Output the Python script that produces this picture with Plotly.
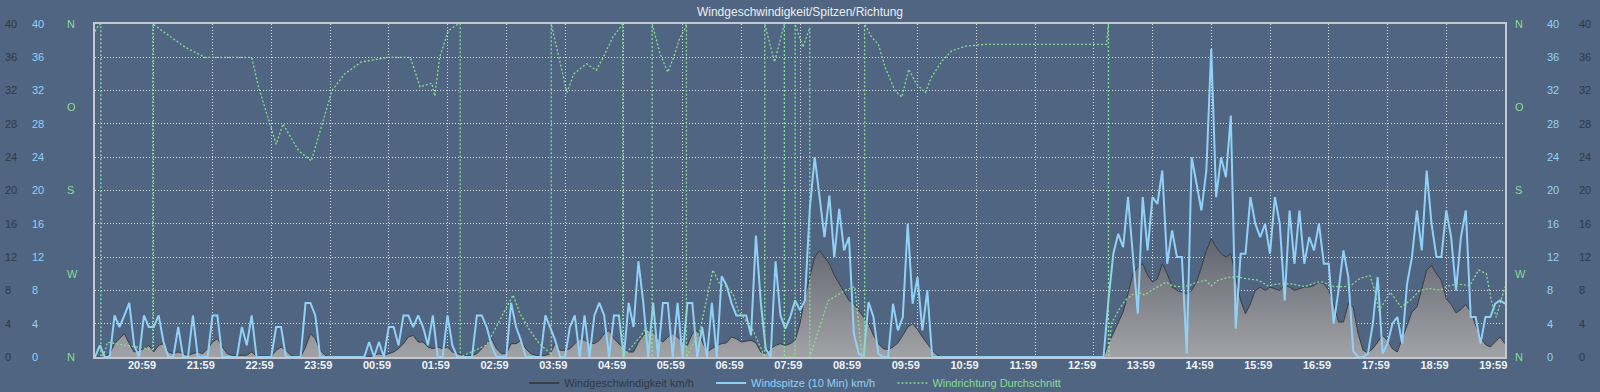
import pandas as pd
import plotly.graph_objects as go

# ---------------- data ----------------
START = "2024-05-01 20:11"
N_STEPS = 289  # 5-minute samples, 20:11 -> 20:11 next day

# Wind speed (km/h), 5-minute samples
speed = (
    [0, 0, 0, 0.4, 1.6, 2.2, 2.8, 1.6, 0.6, 0.8, 1.0, 1.4]
    + [0.6, 1.4, 1.6, 0.6, 0.4, 0.6, 0.4, 0.2, 0.4, 0.6, 0.4, 1.0]
    + [1.8, 2.2, 1.2, 0.4, 0.2, 0.2, 0.2, 0.2, 0.6, 0.1, 0.1, 0.1]
    + [0.1, 0.8, 1.2, 0.8, 0.2, 0, 0, 1.2, 2.8, 2.2, 0.8, 0.2]
    + [0, 0, 0, 0, 0, 0, 0, 0, 0, 0.2, 0.4, 0.2]
    + [0.4, 0.6, 1.0, 1.6, 2.4, 2.6, 1.8, 1.8, 1.2, 1.0, 1.2, 1.0]
    + [1.2, 0.6, 0.4, 0.2, 0.2, 0.2, 0.4, 1.0, 1.6, 2.2, 1.0, 0.4]
    + [0.4, 1.6, 1.6, 2.0, 1.0, 0.4, 0.2, 0.2, 0.2, 0.4, 1.6, 0.8]
    + [0.8, 1.0, 1.6, 2.2, 2.0, 1.7, 1.6, 2.0, 2.8, 3.2, 2.2, 1.6]
    + [1.0, 0.6, 0.6, 1.8, 2.6, 3.2, 3.0, 2.2, 1.8, 2.4, 2.8, 2.4]
    + [1.8, 1.4, 2.8, 3.2, 2.0, 0.6, 1.0, 1.4, 1.6, 1.7, 2.4, 2.2]
    + [1.8, 1.9, 2.0, 1.7, 0.6, 0.4, 1.0, 1.4, 1.6, 1.4, 1.6, 2.0]
    + [4.0, 7.2, 9.6, 12.0, 12.8, 12.0, 11.2, 9.8, 8.8, 7.8, 6.8, 6.4]
    + [5.6, 4.8, 4.0, 2.6, 1.6, 1.0, 0.9, 1.2, 1.7, 2.6, 3.6, 4.0]
    + [3.3, 2.4, 1.6, 0.8, 0.2, 0, 0, 0, 0, 0, 0, 0]
    + [0, 0, 0, 0, 0, 0, 0, 0, 0, 0, 0, 0]
    + [0, 0, 0, 0, 0, 0, 0, 0, 0, 0, 0, 0]
    + [0, 0, 0]
    + [1.6, 2.8, 4.0, 5.4, 7.6, 10.0, 10.8, 11.2, 9.8, 9.0, 9.4, 11.2]
    + [10.0, 8.4, 8.0, 7.8, 7.6, 8.0, 9.0, 10.8, 12.8, 14.2, 13.2, 12.4]
    + [12.0, 12.4, 9.6, 6.8, 5.2, 6.4, 8.0, 8.4, 8.0, 8.4, 8.2, 8.0]
    + [8.6, 8.4, 8.0, 8.2, 8.4, 8.4, 8.6, 9.0, 8.8, 8.0, 6.4, 4.2]
    + [4.2, 6.4, 6.0, 2.8, 0.8, 0.5, 1.0, 1.8, 2.6, 2.0, 1.0, 0.6]
    + [2.2, 4.0, 5.4, 6.0, 8.2, 10.4, 11.0, 10.0, 9.2, 7.0, 6.3, 5.3]
    + [5.7, 6.3, 5.4, 3.8, 2.3, 1.5, 1.2, 1.8, 2.4, 1.6]
)

# Wind gusts, 10-minute peak (km/h), 5-minute samples
gust = (
    [0, 1.4, 0, 0, 5.0, 3.6, 5.0, 6.5, 1.4, 0, 5.0, 3.6]
    + [3.6, 5.0, 1.8, 0, 0, 3.6, 0, 0, 5.0, 0, 0, 0]
    + [5.0, 5.0, 0, 0, 0, 0, 3.6, 1.4, 5.0, 0, 0, 0]
    + [0, 3.6, 3.6, 0, 0, 0, 0, 6.5, 6.5, 5.0, 0, 0]
    + [0, 0, 0, 0, 0, 0, 0, 0, 1.8, 0, 1.8, 0]
    + [3.6, 3.6, 1.4, 5.0, 5.0, 3.6, 5.0, 3.6, 1.4, 5.0, 0, 0]
    + [5.0, 1.4, 0, 0, 0, 0, 5.0, 5.0, 3.6, 1.4, 0, 0]
    + [0, 6.5, 3.6, 2.0, 0, 0, 0, 0, 5.0, 3.6, 2.0, 0]
    + [0, 3.6, 5.0, 0, 5.0, 0, 5.0, 6.5, 5.0, 0, 5.0, 5.0]
    + [0, 6.5, 3.6, 11.5, 6.5, 0, 6.5, 0, 6.5, 6.5, 0, 6.5]
    + [0, 6.5, 6.5, 0, 3.6, 0, 6.5, 0, 9.7, 8.6, 6.5, 5.0]
    + [5.0, 5.0, 2.6, 14.6, 6.5, 1.0, 0, 11.5, 5.0, 3.4, 4.8, 6.8]
    + [5.6, 6.8, 17.8, 24.0, 19.2, 14.4, 19.4, 12.0, 17.8, 12.8, 14.4, 2.8]
    + [0.4, 0, 6.6, 4.8, 0.4, 0, 0, 6.4, 3.2, 4.8, 16.0, 6.4]
    + [9.6, 3.2, 8.0, 0, 0, 0, 0, 0, 0, 0, 0, 0]
    + [0, 0, 0, 0, 0, 0, 0, 0, 0, 0, 0, 0]
    + [0, 0, 0, 0, 0, 0, 0, 0, 0, 0, 0, 0]
    + [0, 0, 0]
    + [6.8, 12.4, 14.8, 13.2, 19.2, 12.0, 5.2, 19.2, 12.8, 19.2, 18.4, 22.4]
    + [11.2, 15.2, 12.0, 12.0, 0.4, 24.0, 20.8, 17.6, 22.4, 37.0, 19.2, 24.0]
    + [21.6, 29.0, 3.4, 12.4, 12.4, 19.2, 16.0, 14.4, 16.0, 12.4, 19.2, 16.0]
    + [6.8, 17.6, 11.2, 17.6, 11.2, 14.4, 12.8, 16.0, 11.2, 11.2, 4.0, 8.0]
    + [12.8, 9.6, 0.7, 0, 0, 0.4, 4.0, 9.6, 0.4, 1.6, 4.0, 4.8]
    + [1.6, 8.8, 12.0, 17.6, 12.8, 22.4, 16.0, 12.0, 12.0, 17.6, 14.4, 8.0]
    + [14.4, 17.6, 4.8, 4.8, 1.6, 4.8, 4.8, 6.4, 6.8, 6.4]
)

# Average wind direction (degrees, 0/360 = N), read at its own time points
dir_times = [
    "20:11", "20:15", "20:17", "20:17", "20:20", "20:24", "20:40", "21:00", "21:10", "21:10",
    "21:29", "21:43", "22:03", "22:51", "22:58", "23:16", "23:23", "23:39", "23:52", "00:02",
    "00:13", "00:26", "00:43", "01:11", "01:33", "01:43", "01:55", "01:58", "02:03", "02:12",
    "02:22", "02:24", "02:24", "02:51", "03:18", "03:25", "03:35", "03:45", "03:56", "03:57",
    "03:57", "04:13", "04:20", "04:33", "04:43", "04:50", "05:00", "05:10", "05:10", "05:28",
    "05:34", "05:39", "05:40", "05:40", "05:48", "05:56", "06:02", "06:08", "06:14", "06:15",
    "06:15", "06:29", "06:42", "06:49", "06:56", "07:03", "07:08", "07:23", "07:33", "07:35",
    "07:35", "07:45", "07:54", "07:55", "07:55", "08:06", "08:06", "08:14", "08:21", "08:21",
    "08:30", "08:40", "08:57", "09:07", "09:14", "09:17", "09:17", "09:24", "09:31", "09:38",
    "09:48", "09:55", "10:02", "10:10", "10:19", "10:25", "10:36", "10:46", "11:00", "11:20",
    "11:54", "13:24", "13:26", "13:26", "13:29", "13:36", "13:43", "13:50", "13:56", "14:03",
    "14:10", "14:17", "14:25", "14:31", "14:37", "14:48", "14:54", "15:05", "15:11", "15:18",
    "15:28", "15:37", "15:45", "15:59", "16:09", "16:19", "16:33", "16:47", "16:59", "17:05",
    "17:16", "17:26", "17:33", "17:43", "17:53", "17:58", "18:02", "18:07", "18:14", "18:20",
    "18:25", "18:34", "18:44", "18:54", "19:05", "19:11", "19:22", "19:35", "19:44", "19:52",
    "19:57", "20:02", "20:08", "20:11",
]
dir_deg = [
    8, 1, 0, 360, 357, 344, 347, 350, 352, 0,
    14, 25, 36, 36, 68, 130, 108, 137, 148, 112,
    72, 54, 41, 36, 36, 68, 64, 78, 36, 7,
    0, 0, 360, 347, 293, 313, 331, 346, 356, 360,
    0, 74, 54, 43, 50, 36, 14, 0, 360, 338,
    328, 345, 360, 0, 32, 52, 36, 16, 4, 0,
    360, 331, 266, 281, 284, 293, 310, 331, 356, 360,
    0, 41, 4, 0, 360, 360, 0, 25, 4, 360,
    331, 299, 288, 284, 356, 360, 0, 14, 22, 47,
    72, 79, 49, 65, 74, 58, 40, 29, 24, 22,
    22, 22, 0, 360, 324, 310, 299, 293, 290, 293,
    288, 284, 279, 283, 284, 283, 280, 277, 283, 277,
    274, 273, 275, 277, 283, 281, 281, 284, 279, 279,
    284, 284, 283, 275, 272, 288, 310, 302, 290, 299,
    306, 299, 288, 286, 288, 284, 281, 283, 266, 270,
    299, 317, 295, 284,
]

hour_labels = ["20:59", "21:59", "22:59", "23:59", "00:59", "01:59", "02:59", "03:59",
               "04:59", "05:59", "06:59", "07:59", "08:59", "09:59", "10:59", "11:59",
               "12:59", "13:59", "14:59", "15:59", "16:59", "17:59", "18:59", "19:59"]
speed_ticks = [0, 4, 8, 12, 16, 20, 24, 28, 32, 36, 40]
dir_ticks = [0, 90, 180, 270, 360]
dir_labels = ["N", "O", "S", "W", "N"]

assert len(speed) == N_STEPS, len(speed)
assert len(gust) == N_STEPS, len(gust)
assert len(dir_times) == len(dir_deg)

# ---------------- helpers ----------------
t0 = pd.Timestamp(START)
t_end = t0 + pd.Timedelta(hours=24)
times = pd.date_range(t0, periods=N_STEPS, freq="5min")


def to_ts(hhmm):
    h, m = map(int, hhmm.split(":"))
    ts = t0.normalize() + pd.Timedelta(hours=h, minutes=m)
    if ts < t0:
        ts += pd.Timedelta(days=1)
    return ts


dir_x = []
for i, s in enumerate(dir_times):
    ts = to_ts(s)
    if i == len(dir_times) - 1 and ts <= t0:
        ts += pd.Timedelta(days=1)
    dir_x.append(ts)

label_ts = [to_ts(s) for s in hour_labels]
grid_ts = [t0 + pd.Timedelta(hours=k) for k in range(1, 24)]

# ---------------- styling ----------------
BG = "#4f6581"
GRID = "rgba(228,232,238,0.9)"
FRAME = "#c3c8d1"
C_SPEED_TXT = "#2f3947"
C_SPEED_LINE = "#3a3d44"
C_GUST = "#92d1f7"
C_DIR = "#86df93"
FONT = "Liberation Sans, Arial, Helvetica, sans-serif"
GRID_DASH = "1px,2px"
GAP = "&nbsp;" * 4

W, H = 1600, 392
L, R, T, B = 95, 1505, 24, 357

fig = go.Figure()

fig.add_trace(go.Scatter(
    x=times, y=speed, mode="lines", yaxis="y", xaxis="x",
    line=dict(color=C_SPEED_LINE, width=1),
    fill="tozeroy",
    fillgradient=dict(type="vertical", start=0, stop=14,
                      colorscale=[[0, "#a2a3a6"], [1, "#626670"]]),
    showlegend=False, hoverinfo="skip",
))
fig.add_trace(go.Scatter(
    x=times, y=gust, mode="lines", yaxis="y2", xaxis="x",
    line=dict(color=C_GUST, width=2),
    showlegend=False, hoverinfo="skip",
))
fig.add_trace(go.Scatter(
    x=dir_x, y=dir_deg, mode="lines", yaxis="y3", xaxis="x",
    line=dict(color=C_DIR, width=1.3, dash="2px,2px"),
    showlegend=False, hoverinfo="skip",
))

# legend entries
fig.add_trace(go.Scatter(x=[None], y=[None], mode="lines",
                         line=dict(color=C_SPEED_LINE, width=2),
                         name=f'<span style="color:{C_SPEED_TXT}">Windgeschwindigkeit km/h</span>{GAP}'))
fig.add_trace(go.Scatter(x=[None], y=[None], mode="lines",
                         line=dict(color=C_GUST, width=2),
                         name=f'<span style="color:{C_GUST}">Windspitze (10 Min) km/h</span>{GAP}'))
fig.add_trace(go.Scatter(x=[None], y=[None], mode="lines",
                         line=dict(color=C_DIR, width=1.5, dash="2px,2px"),
                         name=f'<span style="color:{C_DIR}">Windrichtung Durchschnitt</span>'))

# empty traces so label axes render
for ax in ["y4", "y5", "y6", "y7", "y8", "y9"]:
    fig.add_trace(go.Scatter(x=[], y=[], yaxis=ax, xaxis="x", showlegend=False, hoverinfo="skip"))
fig.add_trace(go.Scatter(x=[], y=[], yaxis="y", xaxis="x2", showlegend=False, hoverinfo="skip"))

xdom = [L / W, R / W]


def label_axis(pos_px, rng, tickvals, ticktext, color):
    return dict(
        overlaying="y", anchor="free", side="right", position=pos_px / W,
        range=rng, tickvals=tickvals, ticktext=ticktext,
        showgrid=False, zeroline=False, showline=False, ticks="",
        tickfont=dict(color=color, size=11, family=FONT), automargin=False,
        fixedrange=True,
    )


fig.update_layout(
    width=W, height=H,
    paper_bgcolor=BG, plot_bgcolor=BG,
    margin=dict(l=0, r=0, t=T, b=H - B, pad=0),
    font=dict(family=FONT, size=11, color="#eef0f4"),
    title=dict(text="Windgeschwindigkeit/Spitzen/Richtung", x=0.5, xanchor="center",
               y=1 - 12 / H, yref="container", yanchor="middle",
               font=dict(size=12, color="#eceef2", family=FONT)),
    xaxis=dict(
        domain=xdom, range=[t0, t_end], type="date",
        tickvals=label_ts, ticktext=hour_labels, ticks="",
        tickfont=dict(size=11, color="#f2f4f7", family=FONT, weight="bold"),
        ticklabelstandoff=-3,
        showgrid=False, zeroline=False,
        showline=True, mirror=True, linecolor=FRAME, linewidth=2,
        automargin=False, fixedrange=True,
    ),
    xaxis2=dict(
        domain=xdom, range=[t0, t_end], type="date", overlaying="x", anchor="y",
        tickvals=grid_ts, showticklabels=False, ticks="",
        showgrid=True, gridcolor=GRID, gridwidth=1, griddash=GRID_DASH,
        showline=False, zeroline=False, automargin=False, fixedrange=True,
    ),
    yaxis=dict(
        range=[0, 40], tickvals=speed_ticks, showticklabels=False, ticks="",
        showgrid=True, gridcolor=GRID, gridwidth=1, griddash=GRID_DASH,
        zeroline=False, showline=True, mirror=True, linecolor=FRAME, linewidth=2,
        automargin=False, fixedrange=True,
    ),
    yaxis2=dict(overlaying="y", range=[0, 40], visible=False, fixedrange=True),
    yaxis3=dict(overlaying="y", range=[360, 0], visible=False, fixedrange=True),
    yaxis4=label_axis(4, [0, 40], speed_ticks, [str(v) for v in speed_ticks], C_SPEED_TXT),
    yaxis5=label_axis(31, [0, 40], speed_ticks, [str(v) for v in speed_ticks], C_GUST),
    yaxis6=label_axis(66, [360, 0], dir_ticks, dir_labels, C_DIR),
    yaxis7=label_axis(1514, [360, 0], dir_ticks, dir_labels, C_DIR),
    yaxis8=label_axis(1546, [0, 40], speed_ticks, [str(v) for v in speed_ticks], C_GUST),
    yaxis9=label_axis(1578, [0, 40], speed_ticks, [str(v) for v in speed_ticks], C_SPEED_TXT),
    legend=dict(orientation="h", x=0.497, xanchor="center", y=1 - 383 / H, yref="container",
                yanchor="middle", bgcolor="rgba(0,0,0,0)",
                font=dict(size=11, family=FONT), itemwidth=30, tracegroupgap=0),
    showlegend=True,
    hovermode=False,
)

fig.write_html(
    "out.html",
    config={"displayModeBar": False},
    post_script=(
        "document.body.style.margin='0';"
        "document.body.style.padding='0';"
        f"document.body.style.background='{BG}';"
        "document.documentElement.style.overflow='hidden';"
    ),
)
